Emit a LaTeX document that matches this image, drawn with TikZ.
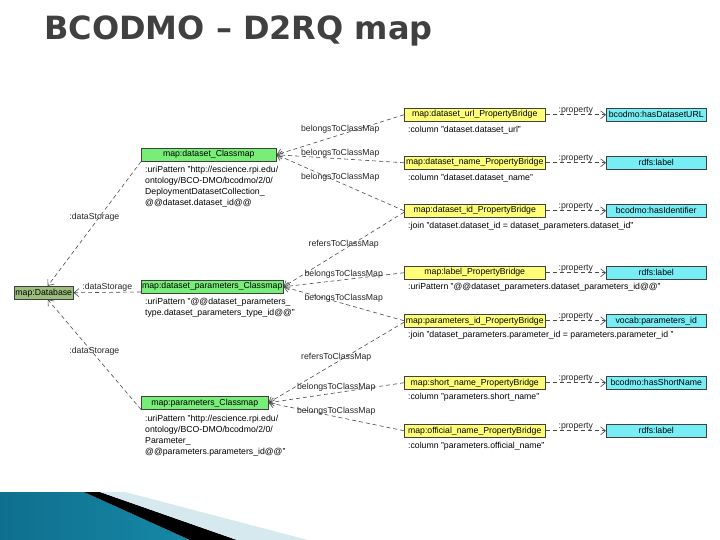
\documentclass[tikz,border=0pt]{standalone}
\usepackage{fontspec}
\setmainfont{Liberation Sans}
\newfontfamily\titlefont{DejaVu Sans}
\usetikzlibrary{arrows.meta}
\definecolor{dbgreen}{HTML}{9BBE7D}
\definecolor{cmgreen}{HTML}{77EE77}
\definecolor{pbyellow}{HTML}{FFFF77}
\definecolor{propcyan}{HTML}{77EEF5}
\definecolor{linkgray}{HTML}{4A4A4A}
\definecolor{titlegray}{HTML}{404040}
\definecolor{tealdark}{HTML}{0F6F8E}
\definecolor{teallight}{HTML}{58B8D3}
\definecolor{tealmid}{HTML}{1688A7}
\definecolor{paleblue}{HTML}{D6E9EF}
\newcommand{\smalltxt}{\fontsize{8.7}{11}\selectfont}
\tikzset{
  box/.style = {draw=black!75, line width=0.5pt, anchor=north west, minimum height=13pt, inner sep=0pt, font=\smalltxt},
  classbox/.style = {box, fill=cmgreen},
  bridgebox/.style = {box, fill=pbyellow, minimum width=141pt},
  propbox/.style = {box, fill=propcyan, minimum width=100pt},
  info/.style = {anchor=base west, align=left, inner sep=0pt, font=\smalltxt},
  link/.style = {draw=linkgray, line width=0.6pt, dash pattern=on 4pt off 3pt, -{Straight Barb[length=5pt, width=8pt]}},
  lbl/.style = {font=\smalltxt, inner sep=1pt, text=black!85}
}
\begin{document}
\begin{tikzpicture}[x=1pt, y=-1pt]
    \useasboundingbox (0,0) rectangle (720,540);
    % title
    \node[anchor=base west, inner sep=0pt, font=\titlefont\bfseries\fontsize{32}{36}\selectfont, text=titlegray] (title) at (44,40) {BCODMO – D2RQ map};
    % bottom band
    \path[left color=tealdark, middle color=teallight, right color=tealmid] (0,492) -- (84,492) -- (190,540) -- (0,540) -- cycle;
    \path[fill=black] (84,492) -- (100,492) -- (237,540) -- (190,540) -- cycle;
    \path[fill=paleblue] (100,492) -- (125,492) -- (308,540) -- (237,540) -- cycle;
    % database
    \node[box, fill=dbgreen, minimum width=59pt] (db) at (14,286) {map:Database};
    % classmaps (info nodes sit on the baseline of their last line)
    \node[classbox, minimum width=135pt] (dsc) at (141,148) {map:dataset\_Classmap};
    \node[info] (dscinfo) at (145,206) {:uriPattern "http://escience.rpi.edu/\\ontology/BCO-DMO/bcodmo/2/0/\\DeploymentDatasetCollection\_\\@@dataset.dataset\_id@@};
    \node[classbox, minimum width=142pt] (dpc) at (141,280) {map:dataset\_parameters\_Classmap};
    \node[info] (dpcinfo) at (145,315) {:uriPattern "@@dataset\_parameters\_\\type.dataset\_parameters\_type\_id@@"};
    \node[classbox, minimum width=127pt] (pc) at (141,396) {map:parameters\_Classmap};
    \node[info] (pcinfo) at (145,454) {:uriPattern "http://escience.rpi.edu/\\ontology/BCO-DMO/bcodmo/2/0/\\Parameter\_\\@@parameters.parameters\_id@@"};
    % property bridges
    \node[bridgebox] (url) at (404,108) {map:dataset\_url\_PropertyBridge};
    \node[info] at (408,133) {:column "dataset.dataset\_url"};
    \node[bridgebox] (name) at (404,156) {map:dataset\_name\_PropertyBridge};
    \node[info] at (408,181) {:column "dataset.dataset\_name"};
    \node[bridgebox] (id) at (404,204) {map:dataset\_id\_PropertyBridge};
    \node[info] at (408,229) {:join "dataset.dataset\_id = dataset\_parameters.dataset\_id"};
    \node[bridgebox] (label) at (404,266) {map:label\_PropertyBridge};
    \node[info] at (408,289) {:uriPattern "@@dataset\_parameters.dataset\_parameters\_id@@"};
    \node[bridgebox] (parid) at (404,314) {map:parameters\_id\_PropertyBridge};
    \node[info] at (408,337) {:join "dataset\_parameters.parameter\_id = parameters.parameter\_id "};
    \node[bridgebox] (short) at (404,376) {map:short\_name\_PropertyBridge};
    \node[info] at (408,399.5) {:column "parameters.short\_name"};
    \node[bridgebox] (official) at (404,424) {map:official\_name\_PropertyBridge};
    \node[info] at (408,448) {:column "parameters.official\_name"};
    % properties
    \node[propbox] (purl) at (606,108) {bcodmo:hasDatasetURL};
    \node[propbox] (pname) at (606,156) {rdfs:label};
    \node[propbox] (pid) at (606,204) {bcodmo:hasIdentifier};
    \node[propbox] (plabel) at (606,266) {rdfs:label};
    \node[propbox] (pparid) at (606,314) {vocab:parameters\_id};
    \node[propbox] (pshort) at (606,376) {bcodmo:hasShortName};
    \node[propbox] (pofficial) at (606,424) {rdfs:label};
    % :property
    \foreach \b/\p in {url/purl, name/pname, id/pid, label/plabel, parid/pparid, short/pshort, official/pofficial}
        \path[link] (\b.east) to node[lbl, pos=0.5, above, inner sep=0.5pt] {:property} (\p.west);
    % belongsToClassMap
    \foreach \b/\c in {url/dsc, name/dsc, id/dsc, label/dpc, parid/dpc, short/pc, official/pc}
        \path[link] (\b.west) to node[lbl, pos=0.5, above] {belongsToClassMap} (\c.east);
    % refersToClassMap
    \path[link] ([yshift=-1.5pt]id.west) to node[lbl, pos=0.5, above] {refersToClassMap} (dpc.east);
    \path[link] ([yshift=-1.5pt]parid.west) to node[lbl, pos=0.5, above] {refersToClassMap} (pc.east);
    % :dataStorage
    \path[link] (dsc.south west) to node[lbl, pos=0.5, yshift=6pt] {:dataStorage} ([xshift=4pt]db.north);
    \path[link] ([yshift=1.5pt]dpc.south west) to node[lbl, pos=0.5, above, inner sep=0.5pt] {:dataStorage} (db.east);
    \path[link] (pc.south west) to node[lbl, pos=0.5, yshift=3pt] {:dataStorage} ([xshift=4pt]db.south);
\end{tikzpicture}
\end{document}
